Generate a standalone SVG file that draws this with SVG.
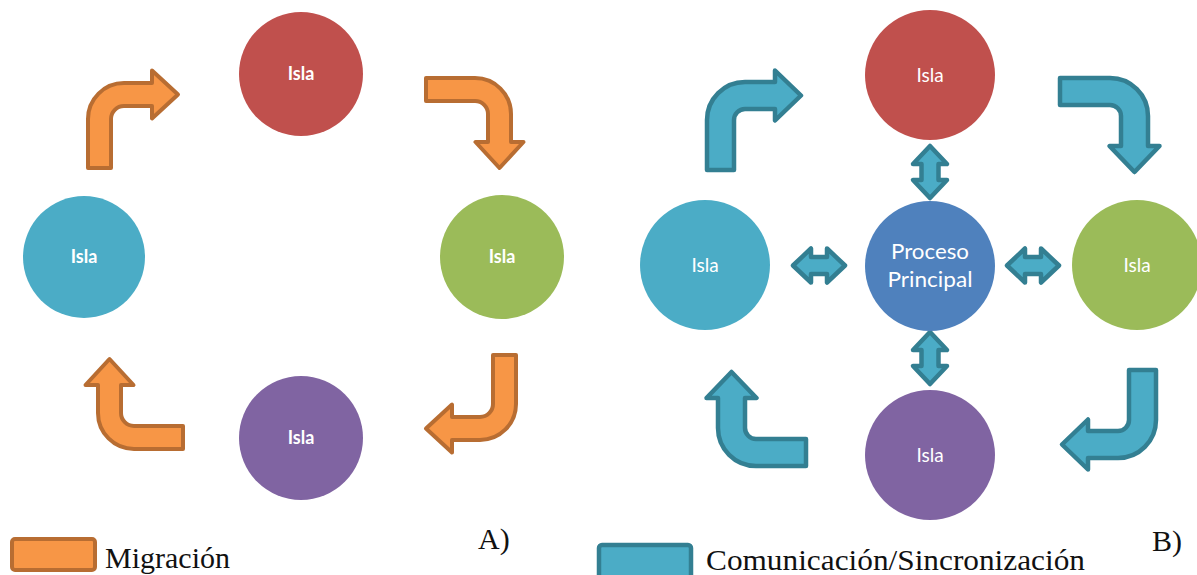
<svg xmlns="http://www.w3.org/2000/svg" width="1197" height="575" viewBox="0 0 1197 575">
  <style>
    .isla-a { font-family: Lato, "Open Sans", sans-serif; font-size: 18px; font-weight: bold; fill: #ffffff; text-anchor: middle; }
    .isla-b { font-family: Lato, "Open Sans", sans-serif; font-size: 19px; fill: #ffffff; text-anchor: middle; }
    .main { font-family: Lato, "Open Sans", sans-serif; font-size: 21px; fill: #ffffff; text-anchor: middle; }
    .legend { font-family: "Liberation Serif", serif; font-size: 30px; fill: #111111; }
    .mig { fill: #F79646; stroke: #B86D32; stroke-width: 4; stroke-linejoin: round; }
    .com { fill: #4BACC6; stroke: #337F92; stroke-width: 4.5; stroke-linejoin: round; }
  </style>
  <defs>
    <!-- bent arrow: rises from the bottom, turns right -->
    <path id="bentA" d="M2,98 L2,49 A36,36 0 0 1 38,13 L66,13 L66,0.5 L92,24.5 L66,48.5 L66,36 L38,36 A13,13 0 0 0 25,49 L25,98 Z"/>
    <path id="bentB" d="M2,100 L2,50 A38,38 0 0 1 40,12 L70,12 L70,0.5 L96,25.5 L70,50.5 L70,39 L40,39 A11,11 0 0 0 29,50 L29,100 Z"/>
    <!-- double-headed arrow, centred on the origin -->
    <path id="dbl" d="M-26,0 L-8,-17 L-8,-8.5 L8,-8.5 L8,-17 L26,0 L8,17 L8,8.5 L-8,8.5 L-8,17 Z"/>
  </defs>

  <!-- A) ring of islands with migration -->
  <g id="connectors-a">
    <use href="#bentA" class="mig" transform="translate(86,70)"/>
    <use href="#bentA" class="mig" transform="translate(524,76) rotate(90)"/>
    <use href="#bentA" class="mig" transform="translate(518,453) rotate(180)"/>
    <use href="#bentA" class="mig" transform="translate(85,451) rotate(-90)"/>
  </g>
  <g id="a-isla-top">
    <circle cx="301" cy="74" r="62" fill="#C0504D"/>
    <text class="isla-a" x="301" y="80">Isla</text>
  </g>
  <g id="a-isla-left">
    <circle cx="84" cy="257" r="61" fill="#4BACC6"/>
    <text class="isla-a" x="84" y="263">Isla</text>
  </g>
  <g id="a-isla-right">
    <circle cx="502" cy="257" r="62" fill="#9BBB59"/>
    <text class="isla-a" x="502" y="263">Isla</text>
  </g>
  <g id="a-isla-bottom">
    <circle cx="301" cy="438" r="62" fill="#8064A2"/>
    <text class="isla-a" x="301" y="444">Isla</text>
  </g>

  <!-- B) islands around a master process -->
  <g id="connectors-b">
    <use href="#bentB" class="com" transform="translate(705,70)"/>
    <use href="#bentB" class="com" transform="translate(1160,76) rotate(90)"/>
    <use href="#bentB" class="com" transform="translate(1158,470) rotate(180)"/>
    <use href="#bentB" class="com" transform="translate(706,468) rotate(-90)"/>
    <use href="#dbl" class="com" transform="translate(930,172) rotate(90)"/>
    <use href="#dbl" class="com" transform="translate(930,358) rotate(90)"/>
    <use href="#dbl" class="com" transform="translate(819,265.5)"/>
    <use href="#dbl" class="com" transform="translate(1033,265.5)"/>
  </g>
  <g id="b-isla-top">
    <circle cx="930" cy="75" r="65" fill="#C0504D"/>
    <text class="isla-b" x="930" y="82">Isla</text>
  </g>
  <g id="b-proceso">
    <circle cx="930" cy="266" r="65" fill="#4F81BD"/>
    <text class="main" x="930" y="259" textLength="78" lengthAdjust="spacingAndGlyphs">Proceso</text>
    <text class="main" x="930" y="287" textLength="85" lengthAdjust="spacingAndGlyphs">Principal</text>
  </g>
  <g id="b-isla-left">
    <circle cx="705" cy="265" r="65" fill="#4BACC6"/>
    <text class="isla-b" x="705" y="272">Isla</text>
  </g>
  <g id="b-isla-right">
    <circle cx="1137" cy="265" r="65" fill="#9BBB59"/>
    <text class="isla-b" x="1137" y="272">Isla</text>
  </g>
  <g id="b-isla-bottom">
    <circle cx="930" cy="455" r="65" fill="#8064A2"/>
    <text class="isla-b" x="930" y="462">Isla</text>
  </g>

  <!-- panel labels and legend -->
  <g id="legend">
    <text class="legend" x="478" y="549" font-size="28">A)</text>
    <text class="legend" x="1152" y="551" font-size="28">B)</text>
    <rect x="12" y="539" width="83" height="31" rx="3" class="mig"/>
    <text class="legend" x="105" y="568" textLength="125" lengthAdjust="spacingAndGlyphs">Migración</text>
    <rect x="599" y="545" width="92" height="34" rx="3" class="com"/>
    <text class="legend" x="706" y="570" textLength="379" lengthAdjust="spacingAndGlyphs">Comunicación/Sincronización</text>
  </g>
</svg>
